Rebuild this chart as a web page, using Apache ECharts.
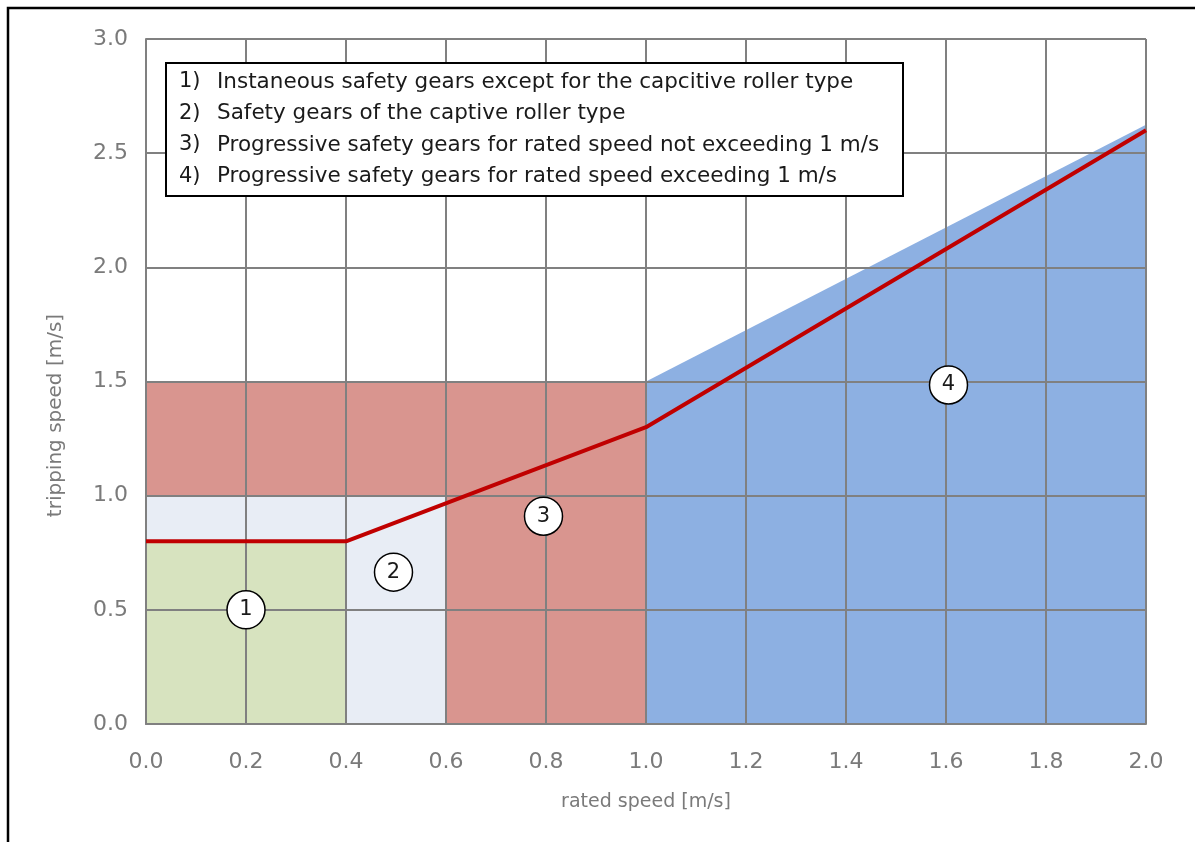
<!DOCTYPE html>
<html>
<head>
<meta charset="utf-8">
<script src="https://cdn.jsdelivr.net/npm/echarts@6/dist/echarts.min.js"></script>
<style>
  html, body { margin: 0; padding: 0; background: #fff; }
  #chart { width: 1195px; height: 842px; }
</style>
</head>
<body>
<div id="chart"></div>
<script>
// zones of the diagram, as polygons in (rated speed, tripping speed)
let zoneGreen = [[0, 0], [0.4, 0], [0.4, 0.8], [0, 0.8]];
let zoneLight = [[0, 0.8], [0.4, 0.8], [0.4, 0], [0.6, 0], [0.6, 1.0], [0, 1.0]];
let zoneRed = [[0, 1.0], [0.6, 1.0], [0.6, 0], [1.0, 0], [1.0, 1.5], [0, 1.5]];
let zoneBlue = [[1.0, 0], [2.0, 0], [2.0, 2.625], [1.0, 1.5]];

// red limit line
let limitLine = [[0, 0.8], [0.4, 0.8], [1.0, 1.3], [2.0, 2.6]];

// circled markers
let markerNums = ['1', '2', '3', '4'];
let markerPos = [[0.2, 0.5], [0.495, 0.665], [0.795, 0.91], [1.605, 1.485]];

// legend box lines
let legendNums = ['1)', '2)', '3)', '4)'];
let legendTexts = [
    'Instaneous safety gears except for the capcitive roller type',
    'Safety gears of the captive roller type',
    'Progressive safety gears for rated speed not exceeding 1 m/s',
    'Progressive safety gears for rated speed exceeding 1 m/s'
];

let zones = [zoneGreen, zoneLight, zoneRed, zoneBlue];
let zoneColors = ['#d7e3bf', '#e8edf5', '#d9958f', '#8db0e2'];

let FONT = 'DejaVu Sans';
let gridColor = '#808080';
let labelColor = '#7a7a7a';

let legendItems = [
    {
        type: 'rect',
        shape: {x: 166, y: 63, width: 737, height: 133},
        style: {fill: '#fff', stroke: '#000', lineWidth: 2},
        z: 100
    }
];
legendTexts.forEach(function (t, i) {
    let cy = 82 + i * 31.5;
    legendItems.push({
        type: 'text', x: 179, y: cy, z: 101,
        style: {text: legendNums[i], fontFamily: FONT, fontSize: 21, fill: '#1a1a1a', verticalAlign: 'middle'}
    });
    legendItems.push({
        type: 'text', x: 217, y: cy, z: 101,
        style: {text: t, fontFamily: FONT, fontSize: 21.5, fill: '#1a1a1a', verticalAlign: 'middle'}
    });
});

let option = {
    animation: false,
    backgroundColor: '#fff',
    textStyle: {fontFamily: FONT},
    grid: {left: 146, top: 39, right: 49, bottom: 118},
    xAxis: {
        type: 'value',
        min: 0, max: 2, interval: 0.2,
        z: 5,
        name: 'rated speed [m/s]',
        nameLocation: 'middle',
        nameGap: 69,
        nameTextStyle: {color: labelColor, fontSize: 19, fontFamily: FONT},
        axisLine: {show: true, lineStyle: {color: gridColor, width: 2}},
        axisTick: {show: false},
        splitLine: {show: true, lineStyle: {color: gridColor, width: 2}},
        axisLabel: {
            color: labelColor, fontSize: 22, fontFamily: FONT, margin: 27,
            formatter: function (v) { return v.toFixed(1); }
        }
    },
    yAxis: {
        type: 'value',
        min: 0, max: 3, interval: 0.5,
        z: 5,
        name: 'tripping speed [m/s]',
        nameLocation: 'middle',
        nameGap: 80,
        nameTextStyle: {color: labelColor, fontSize: 20, fontFamily: FONT, padding: [0, 68, 0, 0]},
        axisLine: {show: true, lineStyle: {color: gridColor, width: 2}},
        axisTick: {show: false},
        splitLine: {show: true, lineStyle: {color: gridColor, width: 2}},
        axisLabel: {
            color: labelColor, fontSize: 22, fontFamily: FONT, margin: 18,
            formatter: function (v) { return v.toFixed(1); }
        }
    },
    graphic: [
        {
            type: 'rect',
            shape: {x: 8, y: 8, width: 1400, height: 1000},
            style: {fill: 'none', stroke: '#000', lineWidth: 2.5},
            z: 100
        }
    ].concat(legendItems),
    series: [
        {
            type: 'custom',
            z: 1,
            silent: true,
            data: zones.map(function (z) { return z[0]; }),
            renderItem: function (params, api) {
                let pts = zones[params.dataIndex].map(function (p) { return api.coord(p); });
                return {
                    type: 'polygon',
                    shape: {points: pts},
                    style: {fill: zoneColors[params.dataIndex]}
                };
            }
        },
        {
            type: 'line',
            z: 10,
            data: limitLine,
            symbol: 'none',
            lineStyle: {color: '#c00000', width: 4}
        },
        {
            type: 'scatter',
            z: 12,
            data: markerPos,
            symbol: 'circle',
            symbolSize: 38,
            itemStyle: {color: '#fff', borderColor: '#000', borderWidth: 1.5, opacity: 1},
            label: {
                show: true,
                position: 'inside',
                formatter: function (p) { return markerNums[p.dataIndex]; },
                color: '#1a1a1a',
                fontSize: 21,
                fontFamily: FONT
            }
        }
    ]
};

let myChart = echarts.init(document.getElementById('chart'));
myChart.setOption(option);
</script>
</body>
</html>
